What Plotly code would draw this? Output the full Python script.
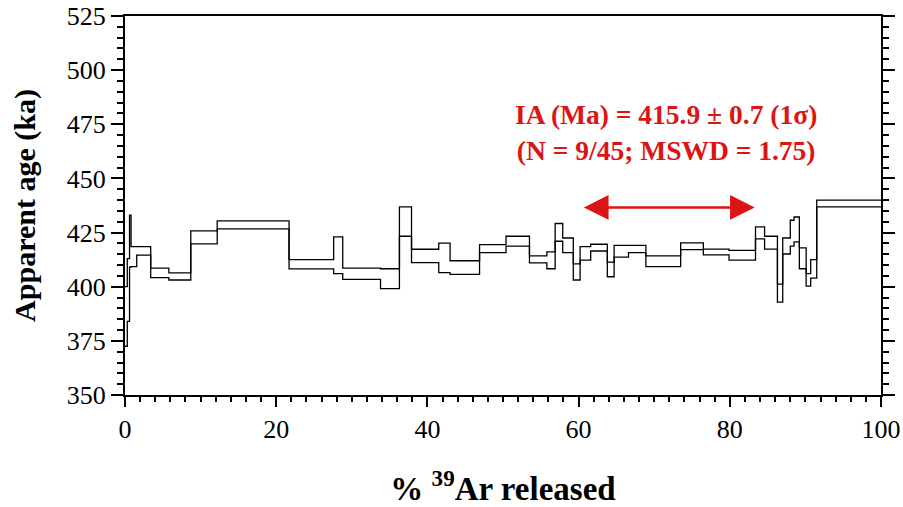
import plotly.graph_objects as go

# Step heating data: cumulative % 39Ar at start of each step and age envelope (ka)
step_start = [0.0, 0.3, 0.6, 0.8, 1.55, 3.4, 5.8, 8.7, 12.2, 21.7, 27.6, 28.8, 33.8, 36.3, 37.9,
              41.5, 43.0, 46.9, 50.4, 53.5, 55.8, 56.9, 57.9, 59.3, 60.2, 61.6, 63.8, 64.7, 66.6,
              68.9, 73.5, 76.5, 79.9, 83.4, 84.6, 86.3, 87.0, 88.0, 88.5, 89.2, 90.1, 90.7, 91.5]
age_low = [372.5, 384.0, 409.0, 409.3, 414.6, 404.2, 403.1, 419.8, 426.7, 408.2, 406.0, 403.4, 399.1,
           423.3, 411.1, 406.5, 405.7, 415.7, 418.7, 411.0, 408.3, 421.0, 415.7, 403.1, 412.3, 416.5,
           404.6, 413.7, 415.7, 409.3, 417.1, 414.7, 412.3, 422.1, 417.4, 392.9, 415.1, 418.7, 420.7,
           408.3, 400.3, 404.0, 436.9]
age_high = [400.0, 413.0, 433.0, 418.5, 418.5, 408.6, 406.4, 425.8, 430.4, 412.5, 423.0, 408.6, 408.3,
            436.9, 417.3, 420.1, 412.0, 419.4, 423.3, 414.2, 416.1, 429.2, 422.5, 410.5, 418.5, 419.6,
            411.4, 419.1, 419.1, 414.2, 420.2, 417.4, 416.8, 427.6, 423.3, 401.2, 422.5, 430.7, 432.2,
            417.9, 406.0, 412.5, 440.0]

# integrated age annotation
ia_text = "IA (Ma) = 415.9 ± 0.7 (1σ)<br>(N = 9/45; MSWD = 1.75)"
arrow_x = [60.5, 83.3]
arrow_y = 436.6

x_env = step_start + [100.0]
fig = go.Figure()
for env in (age_low, age_high):
    fig.add_trace(go.Scatter(x=x_env, y=env + [env[-1]], mode="lines",
                             line=dict(color="black", width=1.3, shape="hv"),
                             hoverinfo="skip", showlegend=False))

red = "#DD1414"
fig.add_annotation(x=arrow_x[1], y=arrow_y, ax=arrow_x[0], ay=arrow_y,
                   xref="x", yref="y", axref="x", ayref="y", text="",
                   showarrow=True, arrowhead=2, startarrowhead=2, arrowside="end+start",
                   arrowsize=1.9, startarrowsize=1.9, arrowwidth=2.6, arrowcolor=red)
fig.add_annotation(x=71.5, y=471.0, xref="x", yref="y",
                   text="<b>" + ia_text + "</b>", showarrow=False, align="center",
                   font=dict(family="Liberation Serif", size=27.5, color=red))

axis_font = dict(family="Liberation Serif", size=26, color="black")
fig.update_xaxes(range=[0, 100], dtick=20, tick0=0, ticks="outside", ticklen=10, tickwidth=2,
                 tickcolor="black", showline=True, linewidth=2, linecolor="black", mirror=True,
                 showgrid=False, zeroline=False, tickfont=axis_font, automargin=False,
                 ticklabeloverflow="allow",
                 minor=dict(dtick=2, ticks="outside", ticklen=5, tickwidth=2, tickcolor="black",
                            showgrid=False),
                 title=dict(text="<b>% <sup>39</sup>Ar released</b>", standoff=36,
                            font=dict(family="Liberation Serif", size=33, color="black")))
fig.update_yaxes(range=[350, 525], dtick=25, tick0=350, ticks="outside", ticklen=12, tickwidth=2,
                 tickcolor="black", showline=True, linewidth=2, linecolor="black", mirror="ticks",
                 showgrid=False, zeroline=False, tickfont=axis_font, automargin=False,
                 ticklabeloverflow="allow",
                 minor=dict(dtick=5, ticks="outside", ticklen=6, tickwidth=2, tickcolor="black",
                            showgrid=False),
                 title=dict(text="<b>Apparent age (ka)</b>", standoff=22,
                            font=dict(family="Liberation Serif", size=30, color="black")))

fig.update_layout(width=903, height=507, margin=dict(l=125, r=22, t=16, b=112),
                  plot_bgcolor="white", paper_bgcolor="white")
# remove the default 8px page margin so the 903x507 figure fills the window exactly
fig.write_html("out.html", config={"displayModeBar": False},
               post_script="document.body.style.margin='0px';document.body.style.overflow='hidden';")
